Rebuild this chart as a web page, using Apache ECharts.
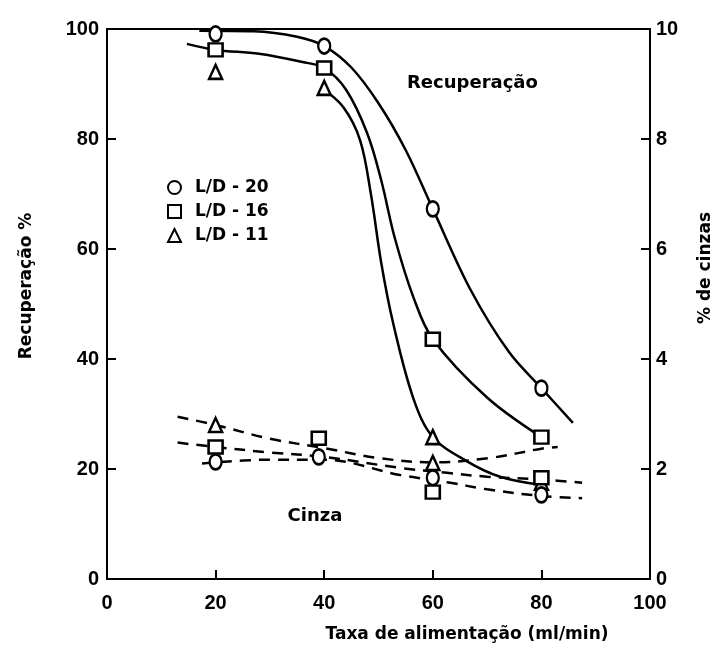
<!DOCTYPE html>
<html>
<head>
<meta charset="utf-8">
<script src="https://cdn.jsdelivr.net/npm/echarts@6/dist/echarts.min.js"></script>
<style>
  html, body { margin: 0; padding: 0; background: #fff; }
  #chart { width: 720px; height: 657px; }
</style>
</head>
<body>
<div id="chart"></div>
<script>
// Feed rate (ml/min) for the measured points
const feedRate = [20, 40, 60, 80];
const feedRateAsh = [20, 39, 60, 80];

// Recovery (%) measured at each feed rate
const recLD20 = [99.1, 96.9, 67.3, 34.7];
const recLD16 = [96.2, 92.9, 43.6, 25.8];
const recLD11 = [92.2, 89.3, 25.8, 17.5];

// Ash content (%) measured
const ashLD20 = [2.13, 2.22, 1.84, 1.53];
const ashLD16 = [2.40, 2.56, 1.58, 1.84];
const ashLD11 = [2.80, null, 2.11, null];

// Hand-fitted recovery curves [feed rate, recovery %]
const recCurve20 = [[17, 99.7], [27, 99.6], [35, 98.6], [40, 96.9], [45, 93], [50, 86.5], [55, 78], [60, 67.3], [67, 52.5], [74, 41.3], [80, 34.7], [85.8, 28.4]];
const recCurve16 = [[14.7, 97.3], [20, 96.2], [28, 95.5], [36, 94], [40, 92.9], [44, 89], [47.9, 81.1], [50.5, 72.5], [53, 62], [56.4, 51.3], [60, 43.6], [70, 33], [80, 25.8]];
const recCurve11 = [[39.5, 89.3], [43.5, 85.8], [46.6, 79.8], [48.6, 70], [50.5, 57.5], [52.7, 46.5], [56.4, 32.9], [60, 25.8], [66.3, 21.4], [72.4, 18.6], [80, 17.1]];

// Hand-fitted ash curves [feed rate, ash %]
const ashCurve20 = [[17.5, 2.1], [30, 2.17], [40, 2.17], [54, 1.89], [62.6, 1.76], [70, 1.63], [80, 1.51], [87.5, 1.47]];
const ashCurve16 = [[13, 2.48], [20, 2.4], [30, 2.3], [40, 2.22], [54, 2.02], [62.6, 1.93], [70, 1.86], [80, 1.81], [87.5, 1.75]];
const ashCurve11 = [[13, 2.95], [20, 2.8], [30, 2.55], [40, 2.38], [50, 2.2], [60, 2.12], [70.5, 2.2], [80, 2.37], [83, 2.4]];

const seriesNames = ['L/D - 20', 'L/D - 16', 'L/D - 11'];

const xTicks = { min: 0, max: 100, interval: 20 };
const recTicks = { min: 0, max: 100, interval: 20 };
const ashTicks = { min: 0, max: 10, interval: 2 };

const FONT = 'DejaVu Sans';
const TICK_FONT = 'Liberation Sans';

function pairs(xs, ys) {
  return xs.map((x, i) => ys[i] == null ? null : [x, ys[i]]).filter(p => p);
}

const markerStyle = { color: '#fff', borderColor: '#000', borderWidth: 2.5, opacity: 1 };

function curve(name, data, yAxisIndex, dashed) {
  return {
    name, type: 'line', data, yAxisIndex, smooth: 0.35,
    showSymbol: false, silent: true, z: 2,
    lineStyle: { color: '#000', width: 2.5, type: dashed ? [11, 8] : 'solid' }
  };
}

function markers(name, data, yAxisIndex, symbol, size) {
  return {
    name, type: 'scatter', data, yAxisIndex, symbol, symbolSize: size, z: 5,
    itemStyle: markerStyle
  };
}

const chart = echarts.init(document.getElementById('chart'), null, { renderer: 'canvas' });

const axisLine = { show: true, lineStyle: { color: '#000', width: 2 } };
const axisTick = { show: true, inside: true, length: 9, lineStyle: { color: '#000', width: 2 } };
const tickLabel = { color: '#000', fontFamily: TICK_FONT, fontWeight: 'bold', fontSize: 20 };

chart.setOption({
  animation: false,
  backgroundColor: '#fff',
  grid: { left: 107, right: 70, top: 29, bottom: 78, show: true, borderColor: '#000', borderWidth: 2 },
  legend: {
    data: seriesNames.map(n => ({ name: n })),
    orient: 'vertical', left: 162, top: 174, itemGap: 7,
    itemWidth: 13, itemHeight: 13,
    selectedMode: false,
    textStyle: { color: '#000', fontFamily: FONT, fontWeight: 'bold', fontSize: 17, padding: [0, 0, 0, 9] }
  },
  xAxis: {
    type: 'value', ...xTicks,
    axisLine, axisTick, splitLine: { show: false },
    axisLabel: { ...tickLabel, margin: 14 }
  },
  yAxis: [
    {
      type: 'value', position: 'left', ...recTicks,
      axisLine, axisTick, splitLine: { show: false },
      axisLabel: { ...tickLabel, margin: 8 }
    },
    {
      type: 'value', position: 'right', ...ashTicks,
      axisLine, axisTick, splitLine: { show: false },
      axisLabel: { ...tickLabel, margin: 6 }
    }
  ],
  graphic: [
    { type: 'text', x: 27, y: 286, rotation: Math.PI / 2,
      style: { text: 'Recuperação %', fill: '#000', font: 'bold 17px ' + FONT, align: 'center', verticalAlign: 'middle' } },
    { type: 'text', x: 706, y: 268, rotation: Math.PI / 2,
      style: { text: '% de cinzas', fill: '#000', font: 'bold 17px ' + FONT, align: 'center', verticalAlign: 'middle' } },
    { type: 'text', x: 467, y: 635,
      style: { text: 'Taxa de alimentação (ml/min)', fill: '#000', font: 'bold 17px ' + FONT, align: 'center', verticalAlign: 'middle' } },
    { type: 'text', x: 407, y: 83,
      style: { text: 'Recuperação', fill: '#000', font: 'bold 18px ' + FONT, align: 'left', verticalAlign: 'middle' } },
    { type: 'text', x: 315, y: 516,
      style: { text: 'Cinza', fill: '#000', font: 'bold 18px ' + FONT, align: 'center', verticalAlign: 'middle' } }
  ],
  series: [
    markers(seriesNames[0], pairs(feedRate, recLD20), 0, 'circle', [12, 15]),
    markers(seriesNames[1], pairs(feedRate, recLD16), 0, 'rect', [14, 13]),
    markers(seriesNames[2], pairs(feedRate, recLD11), 0, 'triangle', [13, 14]),
    markers(seriesNames[0], pairs(feedRateAsh, ashLD20), 1, 'circle', [12, 15]),
    markers(seriesNames[1], pairs(feedRateAsh, ashLD16), 1, 'rect', [14, 13]),
    markers(seriesNames[2], pairs(feedRateAsh, ashLD11), 1, 'triangle', [13, 14]),
    curve('rec-20', recCurve20, 0, false),
    curve('rec-16', recCurve16, 0, false),
    curve('rec-11', recCurve11, 0, false),
    curve('ash-20', ashCurve20, 1, true),
    curve('ash-16', ashCurve16, 1, true),
    curve('ash-11', ashCurve11, 1, true)
  ]
});
</script>
</body>
</html>
